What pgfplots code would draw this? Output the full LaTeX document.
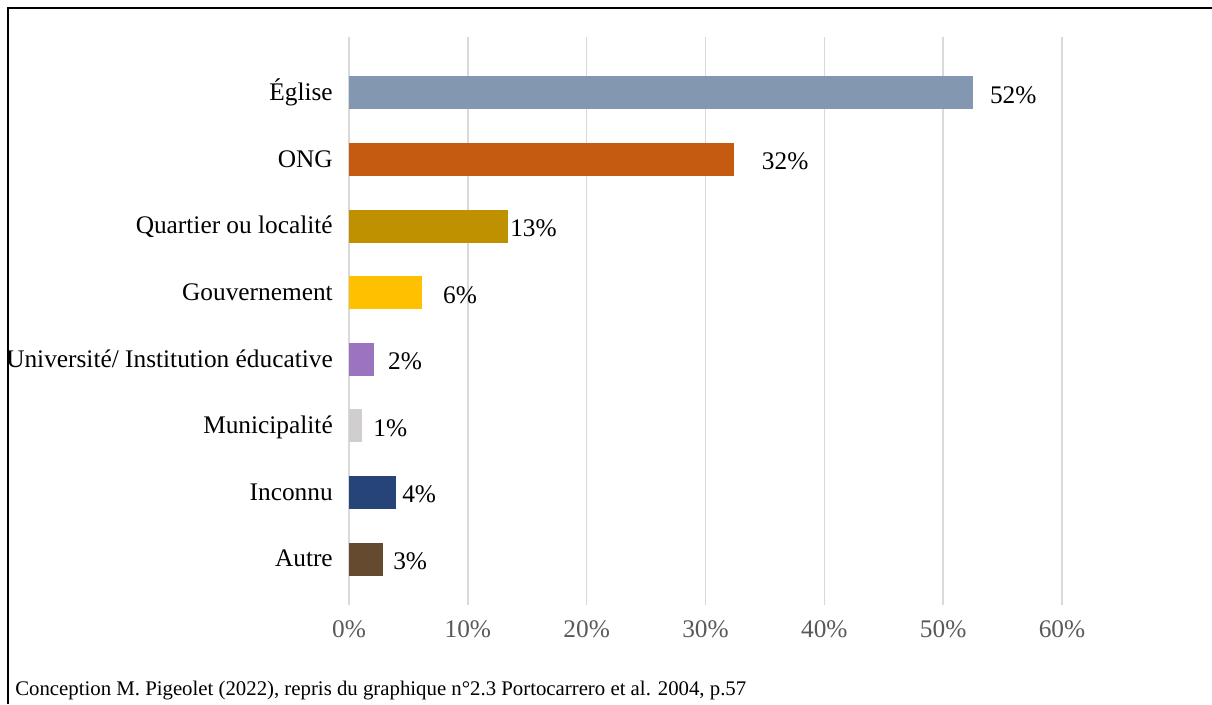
\documentclass[border=0pt]{standalone}
\usepackage{fontspec}
\setmainfont{Liberation Serif}
\usepackage{pgfplots}
\pgfplotsset{compat=1.18}
\definecolor{cEg}{HTML}{8497B0}
\definecolor{cOn}{HTML}{C55A11}
\definecolor{cQu}{HTML}{BF9000}
\definecolor{cGo}{HTML}{FFC000}
\definecolor{cUn}{HTML}{9B74C0}
\definecolor{cMu}{HTML}{D0CECE}
\definecolor{cIn}{HTML}{264478}
\definecolor{cAu}{HTML}{654A30}
\definecolor{gridgray}{HTML}{D9D9D9}
\definecolor{tickgray}{HTML}{595959}
\newcommand{\lblfont}{\fontsize{19}{22}\selectfont}
\begin{document}
\begin{tikzpicture}
\begin{axis}[
  at={(0pt,0pt)}, anchor=south west,
  scale only axis, width=534.75pt, height=426pt,
  xmin=0, xmax=60, ymin=-0.69, ymax=7.84,
  xbar, bar width=24.75pt, bar shift=0pt,
  axis line style={draw=none},
  major tick length=0pt,
  xtick={0,10,...,60},
  xticklabels={0\%,10\%,20\%,30\%,40\%,50\%,60\%},
  ytick={0,...,7},
  yticklabels={Autre,Inconnu,Municipalité,Université/ Institution éducative,Gouvernement,Quartier ou localité,ONG,Église},
  xmajorgrids, ymajorgrids=false,
  grid style={draw=gridgray, line width=1.1pt},
  xticklabel style={font=\lblfont, text=tickgray, inner sep=0pt, anchor=north, yshift=-11.25pt},
  yticklabel style={font=\lblfont, text=black, inner sep=0pt, text height=0.66em, text depth=0pt, anchor=east, xshift=-12pt, yshift=-2.5pt},
  nodes near coords style={font=\lblfont, text=black, inner sep=0pt, text height=0.66em, text depth=0pt, anchor=west, yshift=-4.5pt},
  clip=false,
]
\addplot[fill=cAu, draw=none, nodes near coords={3\%}, nodes near coords style={xshift=7.5pt}] coordinates {(2.86,0)};
\addplot[fill=cIn, draw=none, nodes near coords={4\%}, nodes near coords style={xshift=4.5pt}] coordinates {(3.96,1)};
\addplot[fill=cMu, draw=none, nodes near coords={1\%}, nodes near coords style={xshift=8.25pt}] coordinates {(1.1,2)};
\addplot[fill=cUn, draw=none, nodes near coords={2\%}, nodes near coords style={xshift=10.5pt}] coordinates {(2.1,3)};
\addplot[fill=cGo, draw=none, nodes near coords={6\%}, nodes near coords style={xshift=15.75pt}] coordinates {(6.14,4)};
\addplot[fill=cQu, draw=none, nodes near coords={13\%}, nodes near coords style={xshift=1.5pt}] coordinates {(13.38,5)};
\addplot[fill=cOn, draw=none, nodes near coords={32\%}, nodes near coords style={xshift=21pt}] coordinates {(32.37,6)};
\addplot[fill=cEg, draw=none, nodes near coords={52\%}, nodes near coords style={xshift=12.75pt}] coordinates {(52.49,7)};
\end{axis}
\draw[line width=1.5pt] (-255.75pt,-74.25pt) -- (-255.75pt,447.75pt) -- (647.25pt,447.75pt);
\pgfresetboundingbox
\path[use as bounding box] (-261.75pt,-74.25pt) rectangle (647.25pt,453.75pt);
\node[anchor=base west, inner sep=0pt, font=\fontsize{15.6}{18}\selectfont] at (-250.5pt,-67.5pt) {Conception M. Pigeolet (2022), repris du graphique n°2.3 Portocarrero et al. 2004, p.57};
\end{tikzpicture}
\end{document}
